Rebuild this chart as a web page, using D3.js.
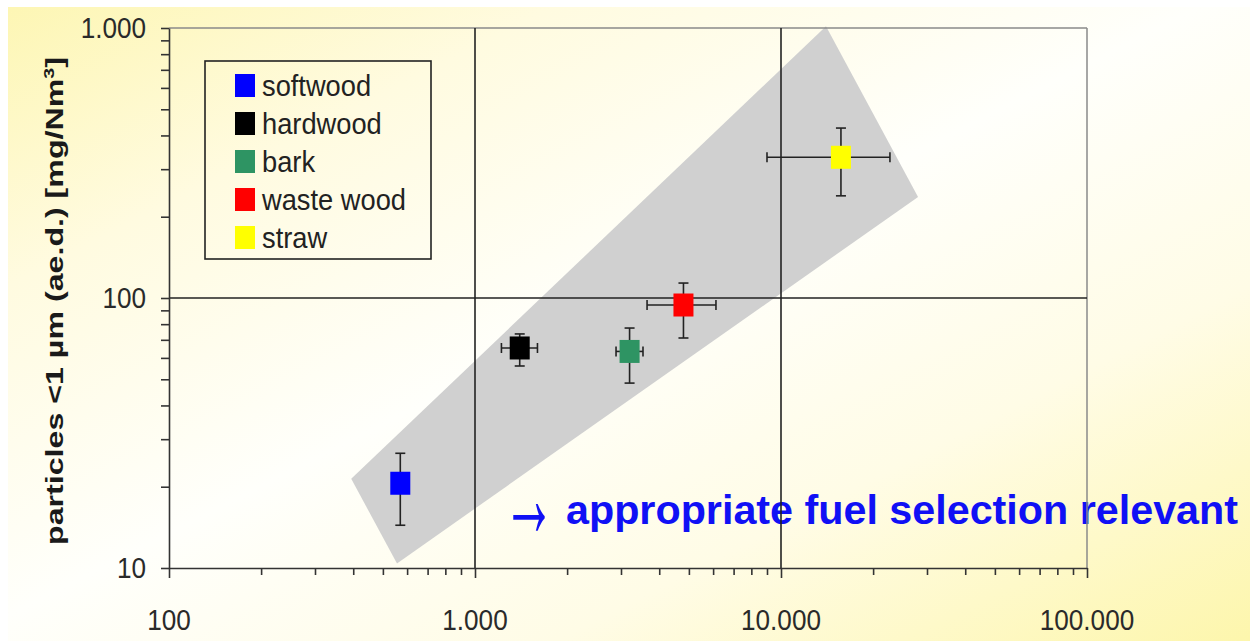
<!DOCTYPE html>
<html>
<head>
<meta charset="utf-8">
<script src="https://cdn.jsdelivr.net/npm/d3@7"></script>
<style>
  body { margin: 0; background: #fff; }
  text { font-family: "Liberation Sans", Arial, sans-serif; }
</style>
</head>
<body>
<script>

// fuel types and measured values (x: value on horizontal axis, y: particles <1 µm)
const fuels = ['softwood', 'hardwood', 'bark', 'waste wood', 'straw'];
const colors = ['#0000ff', '#000000', '#2e9463', '#ff0000', '#ffff00'];
const xVals = [570, 1400, 3200, 4800, 15700];
const xLow = [null, 1220, 2890, 3650, 9000];
const xHigh = [null, 1600, 3540, 6130, 22700];
const yVals = [20.6, 65.3, 63.4, 94.2, 332];
const yLow = [14.4, 56, 48.4, 71.1, 239];
const yHigh = [26.6, 73.6, 77.4, 113.6, 426];

// grey band corners in data units
const bandX = [556, 394, 14030, 28050];
const bandY = [10.4, 21.4, 1016, 236.7];

const xTicks = [100, 1000, 10000, 100000];
const xTickLabels = ['100', '1.000', '10.000', '100.000'];
const yTicks = [10, 100, 1000];
const yTickLabels = ['10', '100', '1.000'];

const width = 1250;
const height = 641;
const pLeft = 169, pRight = 1087, pTop = 28, pBottom = 568;

const svg = d3.select('body')
	.append('svg')
	.attr('width', width)
	.attr('height', height);

// squeeze text a bit horizontally, the original is narrow
function squeeze(sel, k) {
	sel.each(function() {
		const w = this.getComputedTextLength();
		d3.select(this)
			.attr('textLength', w * k)
			.attr('lengthAdjust', 'spacingAndGlyphs');
	});
}

const defs = svg.append('defs');
const grad = defs.append('linearGradient')
	.attr('id', 'bg')
	.attr('x1', 0).attr('y1', 0)
	.attr('x2', 1).attr('y2', 1);
grad.append('stop').attr('offset', '0%').attr('stop-color', '#fdf6b4');
grad.append('stop').attr('offset', '22%').attr('stop-color', '#fffbe0');
grad.append('stop').attr('offset', '48%').attr('stop-color', '#fffffb');
grad.append('stop').attr('offset', '72%').attr('stop-color', '#fffce6');
grad.append('stop').attr('offset', '100%').attr('stop-color', '#fdf6ac');

svg.append('rect')
	.attr('x', 8).attr('y', 7)
	.attr('width', width - 8).attr('height', height - 7)
	.attr('fill', 'url(#bg)');

const xScale = d3.scaleLog()
	.domain([100, 100000])
	.range([pLeft, pRight]);
const yScale = d3.scaleLog()
	.domain([10, 1000])
	.range([pBottom, pTop]);

// grey band
svg.append('polygon')
	.attr('points', bandX.map((d, i) => xScale(d) + ',' + yScale(bandY[i])).join(' '))
	.attr('fill', '#d0d0d0');

// text in the chart (arrow glyph is small in the fonts here, so scale it up)
svg.append('g')
	.attr('transform', 'translate(529,513) scale(1.4,3)')
	.append('text')
	.attr('x', 0)
	.attr('y', 7.5)
	.attr('text-anchor', 'middle')
	.attr('fill', '#1010f5')
	.attr('font-weight', 'bold')
	.attr('font-size', 38)
	.text('\u2192');
svg.append('text')
	.attr('x', 566)
	.attr('y', 524)
	.attr('fill', '#1010f5')
	.attr('font-weight', 'bold')
	.attr('font-size', 40)
	.attr('textLength', 672)
	.attr('lengthAdjust', 'spacingAndGlyphs')
	.text('appropriate fuel selection relevant');

// frame
svg.append('line')
	.attr('x1', pLeft).attr('x2', pRight)
	.attr('y1', pTop).attr('y2', pTop)
	.attr('stroke', '#8a8a8a').attr('stroke-width', 1.5);
svg.append('line')
	.attr('x1', pRight).attr('x2', pRight)
	.attr('y1', pTop).attr('y2', pBottom)
	.attr('stroke', '#8a8a8a').attr('stroke-width', 1.5);

// grid lines
svg.selectAll('.vgrid')
	.data(xTicks.slice(1, -1))
	.enter()
	.append('line')
	.attr('class', 'vgrid')
	.attr('x1', d => xScale(d)).attr('x2', d => xScale(d))
	.attr('y1', pTop).attr('y2', pBottom)
	.attr('stroke', '#222').attr('stroke-width', 1.6);
svg.selectAll('.hgrid')
	.data(yTicks.slice(1, -1))
	.enter()
	.append('line')
	.attr('class', 'hgrid')
	.attr('x1', pLeft).attr('x2', pRight)
	.attr('y1', d => yScale(d)).attr('y2', d => yScale(d))
	.attr('stroke', '#222').attr('stroke-width', 1.6);

// axes
const xAxis = d3.axisBottom(xScale)
	.tickValues(xScale.ticks())
	.tickFormat('')
	.tickSize(7)
	.tickSizeOuter(0);
const gx = svg.append('g')
	.attr('transform', 'translate(0,' + pBottom + ')')
	.call(xAxis);
gx.selectAll('.tick line')
	.attr('y2', d => xTicks.includes(d) ? 10 : 7);

const yAxis = d3.axisLeft(yScale)
	.tickValues(yScale.ticks())
	.tickFormat('')
	.tickSize(8)
	.tickSizeOuter(0);
svg.append('g')
	.attr('transform', 'translate(' + pLeft + ',0)')
	.call(yAxis);

svg.selectAll('.domain, .tick line')
	.attr('stroke', '#333')
	.attr('stroke-width', 1.6);

// tick labels
const xl = svg.selectAll('.xlab')
	.data(xTicks)
	.enter()
	.append('text')
	.attr('class', 'xlab')
	.attr('x', d => xScale(d))
	.attr('y', 630)
	.attr('text-anchor', 'middle')
	.attr('font-size', 29)
	.attr('fill', '#2a2a2a')
	.text((d, i) => xTickLabels[i]);
squeeze(xl, 0.9);

const yl = svg.selectAll('.ylab')
	.data(yTicks)
	.enter()
	.append('text')
	.attr('class', 'ylab')
	.attr('x', 146)
	.attr('y', d => yScale(d) + 10)
	.attr('text-anchor', 'end')
	.attr('font-size', 29)
	.attr('fill', '#2a2a2a')
	.text((d, i) => yTickLabels[i]);
squeeze(yl, 0.9);

// y axis title
const yt = svg.append('text')
	.attr('transform', 'translate(63,301) rotate(-90)')
	.attr('text-anchor', 'middle')
	.attr('font-size', 23)
	.attr('font-weight', 'bold')
	.attr('fill', '#1a1a1a')
	.attr('textLength', 488)
	.attr('lengthAdjust', 'spacingAndGlyphs');
yt.append('tspan').text('particles <1 µm (ae.d.) [mg/Nm');
yt.append('tspan').attr('font-size', 14).attr('dy', -9).text('3');
yt.append('tspan').attr('dy', 9).text(']');

// error bars
const cap = 5;
const pts = fuels.map((f, i) => ({
	i: i, x: xVals[i], y: yVals[i],
	xl: xLow[i], xh: xHigh[i], yl: yLow[i], yh: yHigh[i]
}));

const eb = svg.append('g')
	.attr('stroke', '#222')
	.attr('stroke-width', 1.6);

pts.forEach(d => {
	const cx = xScale(d.x), cy = yScale(d.y);
	const y1 = yScale(d.yh), y2 = yScale(d.yl);
	eb.append('line').attr('x1', cx).attr('x2', cx).attr('y1', y1).attr('y2', y2);
	eb.append('line').attr('x1', cx - cap).attr('x2', cx + cap).attr('y1', y1).attr('y2', y1);
	eb.append('line').attr('x1', cx - cap).attr('x2', cx + cap).attr('y1', y2).attr('y2', y2);
	if (d.xl !== null) {
		const x1 = xScale(d.xl), x2 = xScale(d.xh);
		eb.append('line').attr('x1', x1).attr('x2', x2).attr('y1', cy).attr('y2', cy);
		eb.append('line').attr('x1', x1).attr('x2', x1).attr('y1', cy - cap).attr('y2', cy + cap);
		eb.append('line').attr('x1', x2).attr('x2', x2).attr('y1', cy - cap).attr('y2', cy + cap);
	}
});

// markers
svg.selectAll('.marker')
	.data(pts)
	.enter()
	.append('rect')
	.attr('class', 'marker')
	.attr('x', d => xScale(d.x) - 10)
	.attr('y', d => yScale(d.y) - 11.5)
	.attr('width', 20)
	.attr('height', 23)
	.attr('fill', d => colors[d.i]);

// legend
const legend = svg.append('g');
legend.append('rect')
	.attr('x', 205).attr('y', 61)
	.attr('width', 226).attr('height', 198)
	.attr('fill', 'none')
	.attr('stroke', '#222')
	.attr('stroke-width', 1.6);

const rows = legend.selectAll('.row')
	.data(fuels)
	.enter()
	.append('g')
	.attr('transform', (d, i) => 'translate(235,' + (86 + i * 38) + ')');
rows.append('rect')
	.attr('x', 0).attr('y', -12)
	.attr('width', 20).attr('height', 23)
	.attr('fill', (d, i) => colors[i]);
const lt = rows.append('text')
	.attr('x', 27)
	.attr('y', 10)
	.attr('font-size', 29)
	.attr('fill', '#222')
	.text(d => d);
squeeze(lt, 0.94);

</script>
</body>
</html>
